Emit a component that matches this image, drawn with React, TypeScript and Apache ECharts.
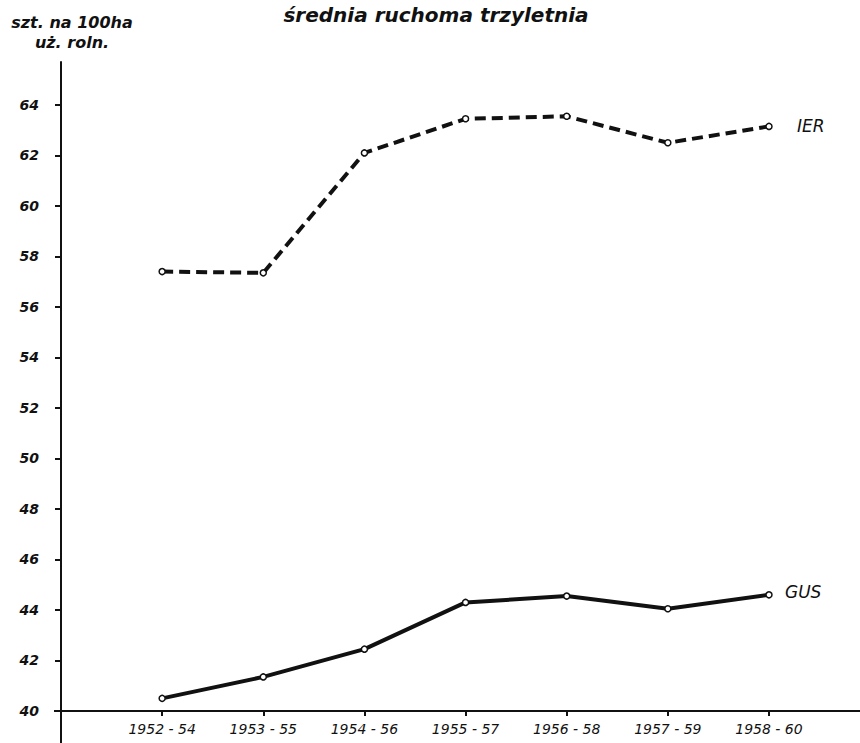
import React, { useEffect, useRef } from "react";
import * as echarts from "echarts";

const categories = ["1952-54", "1953-55", "1954-56", "1955-57", "1956-58", "1957-59", "1958-60"];
const ierValues = [57.4, 57.35, 62.1, 63.45, 63.55, 62.5, 63.15];
const gusValues = [40.5, 41.35, 42.45, 44.3, 44.55, 44.05, 44.6];
const yTicks = { min: 40, max: 65.7, interval: 2 };
const titleText = "średnia ruchoma trzyletnia";
const yAxisTitle = "szt. na 100ha\nuż. roln.";

const FONT = "DejaVu Sans";

export default function App() {
  const ref = useRef<HTMLDivElement>(null);
  useEffect(() => {
    if (!ref.current) return;
    const chart = echarts.init(ref.current, null, { renderer: "svg" });
    const toPairs = (arr: number[]) => arr.map((v, i) => [i + 1, v]);
    chart.setOption({
      animation: false,
      backgroundColor: "#ffffff",
      title: {
        text: titleText,
        left: 431,
        textAlign: "center",
        top: 0,
        textStyle: { fontFamily: FONT, fontStyle: "italic", fontWeight: "bold", fontSize: 20, color: "#111" },
      },
      grid: { left: 61, right: 0, top: 62, bottom: 32, containLabel: false, outerBoundsMode: "none" },
      xAxis: {
        type: "value",
        min: 0,
        max: 7.9,
        interval: 1,
        axisLine: { show: true, lineStyle: { color: "#111", width: 2 } },
        axisTick: { show: true, length: 5, lineStyle: { color: "#111", width: 2 } },
        splitLine: { show: false },
        axisLabel: {
          formatter: (v: number) =>
            Number.isInteger(v) && v >= 1 && v <= categories.length ? categories[v - 1].replace("-", " - ") : "",
          fontFamily: FONT,
          fontStyle: "italic",
          fontSize: 14,
          color: "#111",
          margin: 11,
          showMaxLabel: false,
        },
      },
      yAxis: {
        type: "value",
        min: yTicks.min,
        max: yTicks.max,
        interval: yTicks.interval,
        name: yAxisTitle,
        nameLocation: "end",
        nameGap: 10,
        nameTextStyle: {
          fontFamily: FONT,
          fontStyle: "italic",
          fontWeight: "bold",
          fontSize: 16,
          color: "#111",
          align: "center",
          padding: [0, 0, 0, 22],
          lineHeight: 20,
        },
        axisLine: { show: true, lineStyle: { color: "#111", width: 2 } },
        axisTick: { show: true, length: 6, lineStyle: { color: "#111", width: 2 } },
        splitLine: { show: false },
        axisLabel: {
          fontFamily: FONT,
          fontStyle: "italic",
          fontWeight: "bold",
          fontSize: 14,
          color: "#111",
          margin: 22,
          showMaxLabel: false,
          formatter: (v: number) => (Number.isInteger(v) ? String(v) : ""),
        },
      },
      series: [
        {
          name: "IER",
          type: "line",
          data: toPairs(ierValues),
          symbol: "circle",
          symbolSize: 6,
          itemStyle: { color: "#fff", borderColor: "#111", borderWidth: 1.5 },
          lineStyle: { color: "#111", width: 4, type: [11, 6] },
          endLabel: {
            show: true,
            formatter: "{a}",
            distance: 28,
            fontFamily: FONT,
            fontStyle: "italic",
            fontSize: 17,
            color: "#111",
          },
          z: 3,
        },
        {
          name: "GUS",
          type: "line",
          data: toPairs(gusValues),
          symbol: "circle",
          symbolSize: 6,
          itemStyle: { color: "#fff", borderColor: "#111", borderWidth: 1.5 },
          lineStyle: { color: "#111", width: 4 },
          endLabel: {
            show: true,
            formatter: "{a}",
            distance: 16,
            fontFamily: FONT,
            fontStyle: "italic",
            fontSize: 17,
            color: "#111",
            offset: [0, -3],
          },
          z: 3,
        },
      ],
      graphic: [
        {
          type: "line",
          shape: { x1: 61, y1: 711, x2: 61, y2: 743 },
          style: { stroke: "#111", lineWidth: 2 },
        },
        {
          type: "line",
          shape: { x1: 54, y1: 711, x2: 61, y2: 711 },
          style: { stroke: "#111", lineWidth: 2 },
        },
      ],
    });
    return () => chart.dispose();
  }, []);
  return (
    <div
      ref={ref}
      style={{ position: "fixed", left: 0, top: 0, width: 860, height: 743, background: "#fff" }}
    />
  );
}
